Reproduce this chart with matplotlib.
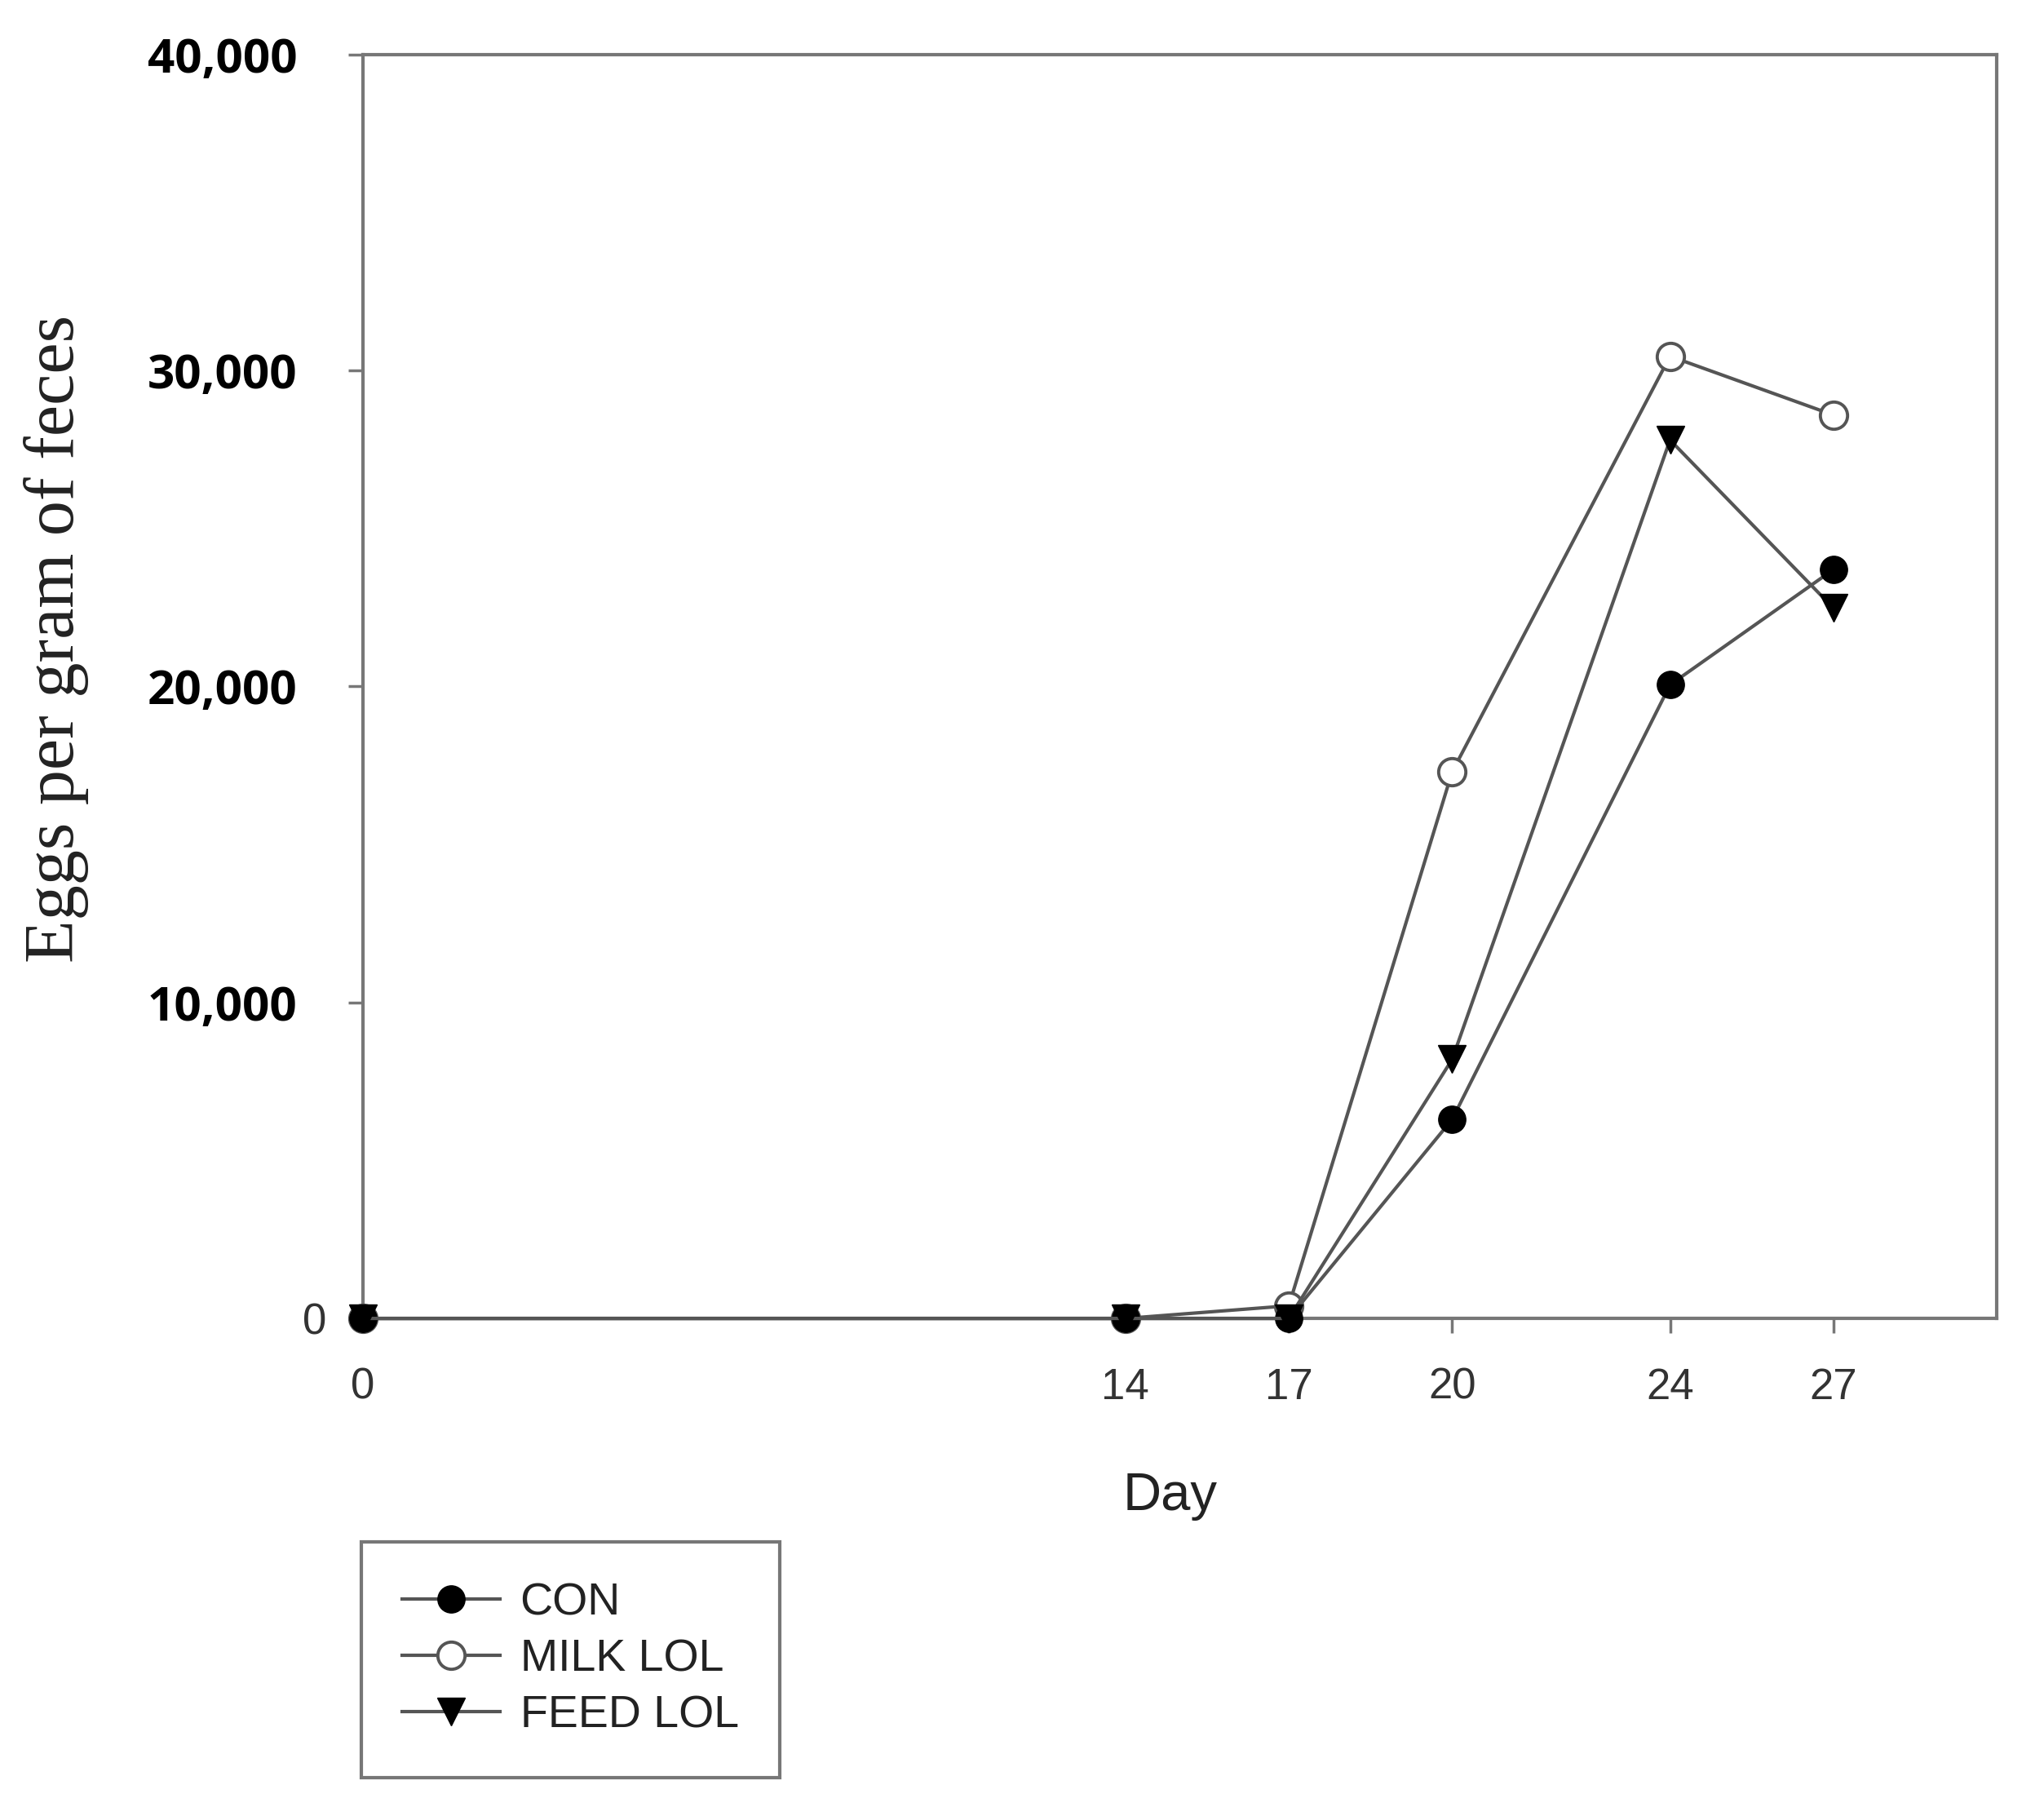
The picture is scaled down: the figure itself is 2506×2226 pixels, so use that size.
import matplotlib
matplotlib.use("Agg")
import matplotlib.pyplot as plt
from matplotlib.transforms import ScaledTranslation

# values
days = [0, 14, 17, 20, 24, 27]
con = [0, 0, 0, 6300, 20050, 23700]
milk_lol = [0, 0, 400, 17300, 30450, 28590]
feed_lol = [0, 0, 0, 8200, 27800, 22480]

series_names = ["CON", "MILK LOL", "FEED LOL"]
y_ticks = [0, 10000, 20000, 30000, 40000]
y_tick_labels = ["0", "10,000", "20,000", "30,000", "40,000"]

line_col = "#555555"
spine_col = "#777777"

fig = plt.figure(figsize=(25.06, 22.26), dpi=100)
ax = fig.add_axes([0.1776, 0.274, 0.7993, 0.696])

# open circles sit underneath the filled markers
ax.plot(days, con, color=line_col, lw=3, marker="o", ms=24,
        mfc="black", mec="black", label=series_names[0], clip_on=False, zorder=4)
ax.plot(days, milk_lol, color=line_col, lw=3, marker="o", ms=24,
        mfc="white", mec=line_col, mew=2.8, label=series_names[1], clip_on=False, zorder=3)
ax.plot(days, feed_lol, color=line_col, lw=3, marker="v", ms=25,
        mfc="black", mec="black", label=series_names[2], clip_on=False, zorder=4)

ax.set_xlim(0, 30)
ax.set_ylim(0, 40000)
ax.set_xticks(days)
ax.set_xticklabels([str(d) for d in days])
ax.set_yticks(y_ticks)
ax.set_yticklabels(y_tick_labels, fontdict={"family": "Open Sans", "weight": "bold", "size": 42})

for s in ax.spines.values():
    s.set_color(spine_col)
    s.set_linewidth(3)

ax.tick_params(axis="both", direction="out", length=13, width=2.5, color=spine_col)
ax.tick_params(axis="x", pad=30, labelsize=38, labelcolor="#333333")
ax.tick_params(axis="y", pad=45, labelcolor="black")

for lab in ax.get_xticklabels():
    lab.set_family("Liberation Sans")

# the "0" label is plain and sits closer to the axis
zero_lab = ax.yaxis.get_major_ticks()[0].label1
zero_lab.set_family("Liberation Sans")
zero_lab.set_fontweight("normal")
zero_lab.set_fontsize(38)
zero_lab.set_color("#333333")
zero_lab.set_transform(zero_lab.get_transform() + ScaledTranslation(0.36, 0, fig.dpi_scale_trans))

ax.set_xlabel("Day", fontsize=47, family="Liberation Sans", color="#222222")
ax.xaxis.set_label_coords(0.494, -0.121)
ax.set_ylabel("Eggs per gram of feces", fontsize=62, family="Liberation Serif", color="#222222")
ax.yaxis.set_label_coords(-0.168, 0.538)

leg = fig.legend(loc="upper left", bbox_to_anchor=(0.1768, 0.151), borderaxespad=0,
                 prop={"family": "Liberation Sans", "size": 40},
                 handlelength=2.15, handletextpad=0.45, borderpad=0.9, labelspacing=0.3,
                 fancybox=False, edgecolor=spine_col, framealpha=1)
leg.get_frame().set_linewidth(3)
for t in leg.get_texts():
    t.set_color("#222222")

fig.savefig("out.png", dpi=100, facecolor="white")
